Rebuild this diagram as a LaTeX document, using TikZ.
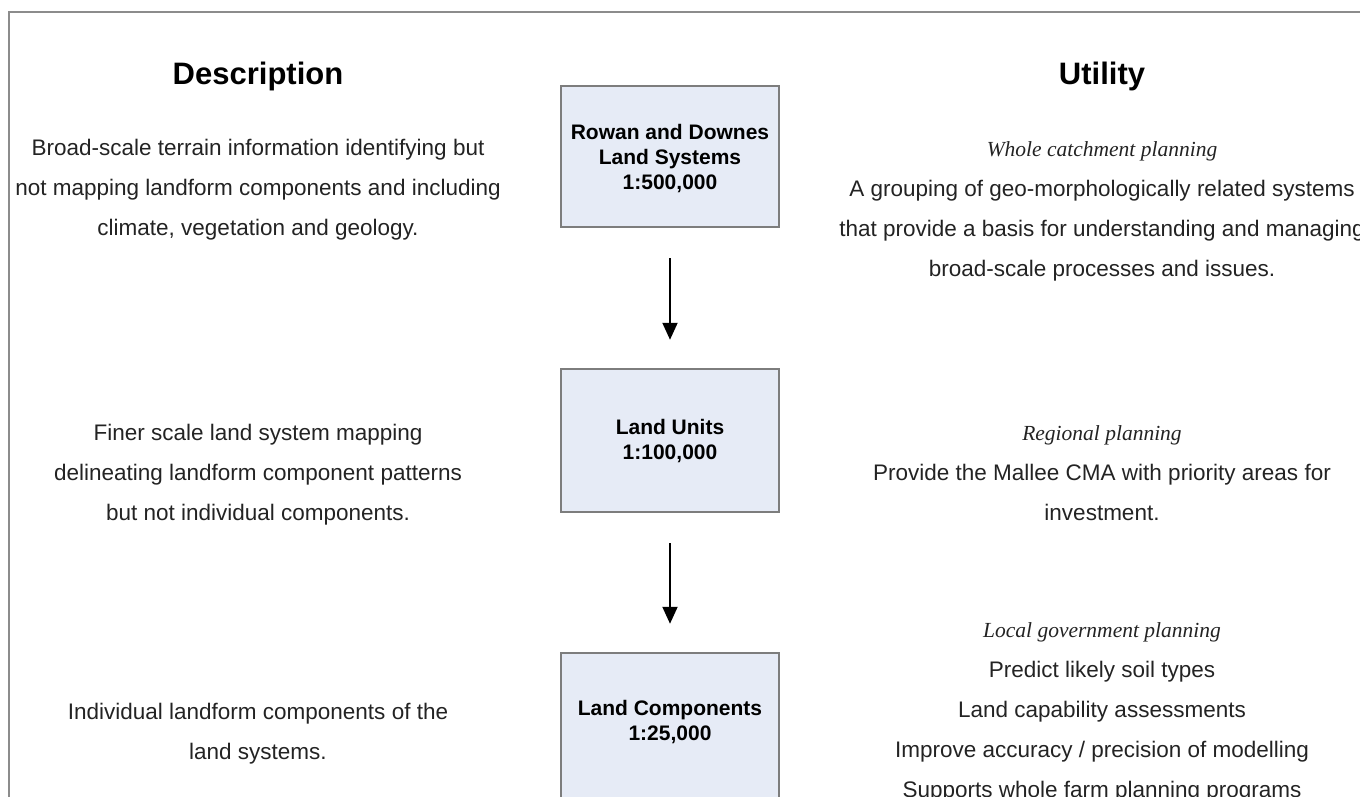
\documentclass[tikz,border=0pt]{standalone}
\usepackage{fontspec}
\setmainfont{Liberation Sans}
\newfontfamily\serifit{Liberation Serif}
\usetikzlibrary{arrows.meta}
\definecolor{boxfill}{RGB}{230,235,246}
\definecolor{boxline}{RGB}{125,125,125}
\definecolor{frameline}{RGB}{140,140,140}
\definecolor{txt}{RGB}{35,35,35}
\tikzset{
  heading/.style={font=\fontsize{31}{36}\selectfont\bfseries, text=black, inner sep=0pt},
  body/.style={font=\fontsize{22.5}{40}\selectfont, text=txt, align=center, inner sep=0pt},
  levelbox/.style={draw=boxline, line width=2.5pt, fill=boxfill, minimum width=218pt, inner sep=0pt,
    font=\fontsize{21}{25}\selectfont\bfseries, align=center, text=black},
  boxtext/.style={font=\fontsize{21}{25}\selectfont\bfseries, align=center, inner sep=0pt, text=black},
  flowarrow/.style={draw=black, line width=2pt, -{Triangle[width=15pt,length=17pt]}, shorten <=30pt, shorten >=28pt}
}
\newcommand{\ital}[1]{{\serifit\itshape\fontsize{21.5}{40}\selectfont #1}}
\begin{document}
\begin{tikzpicture}[x=1pt,y=-1pt]
\useasboundingbox (0,0) rectangle (1360,796);
\clip (0,0) rectangle (1360,796);
\draw[frameline, line width=2pt] (9,12) rectangle (1400,840);

\node[heading] (hdesc) at (258,76) {Description};
\node[heading] (hutil) at (1102,76) {Utility};

\node[levelbox, minimum height=141pt] (b1) at (670,156.5) {};
\node[boxtext] (b1t) at (670,158.5) {Rowan and Downes\\Land Systems\\1:500,000};
\node[levelbox, minimum height=143pt] (b2) at (670,440.5) {};
\node[boxtext] (b2t) at (670,441.5) {Land Units\\1:100,000};
\node[levelbox, minimum height=170pt] (b3) at (670,738) {};
\node[boxtext] (b3t) at (670,722) {Land Components\\1:25,000};

\draw[flowarrow] (b1.south) -- (b2.north);
\draw[flowarrow] (b2.south) -- (b3.north);

\node[body] (d1) at (258,190) {Broad-scale terrain information identifying but\\not mapping landform components and including\\climate, vegetation and geology.};
\node[body] (d2) at (258,475) {Finer scale land system mapping\\delineating landform component patterns\\but not individual components.};
\node[body] (d3) at (258,734) {Individual landform components of the\\land systems.};

\node[body] (u1) at (1102,211) {\ital{Whole catchment planning}\\A grouping of geo-morphologically related systems\\that provide a basis for understanding and managing\\broad-scale processes and issues.};
\node[body] (u2) at (1102,473) {\ital{Regional planning}\\Provide the Mallee CMA with priority areas for\\investment.};
\node[body] (u3) at (1102,712) {\ital{Local government planning}\\Predict likely soil types\\Land capability assessments\\Improve accuracy / precision of modelling\\Supports whole farm planning programs};
\end{tikzpicture}
\end{document}
